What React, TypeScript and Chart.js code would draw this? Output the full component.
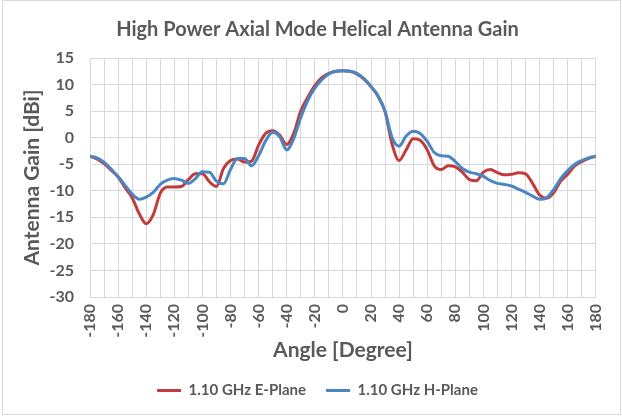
import React, { useEffect, useRef } from "react";
import { Chart, registerables } from "chart.js";

Chart.register(...registerables);

const angles: number[] = [
  -180, -175, -170, -165, -160, -155, -150, -145, -140, -135, -130, -125, -120, -115, -110, -105, -100, -95, -90, -85,
  -80, -75, -70, -65, -60, -55, -50, -45, -40, -35, -30, -25, -20, -15, -10, -5, 0, 5, 10, 15, 20, 25, 30, 35, 40, 45,
  50, 55, 60, 65, 70, 75, 80, 85, 90, 95, 100, 105, 110, 115, 120, 125, 130, 135, 140, 145, 150, 155, 160, 165, 170,
  175, 180,
];

const ePlane: number[] = [
  -3.5, -4.0, -4.9, -6.1, -7.4, -9.4, -11.3, -14.3, -16.2, -14.5, -10.5, -9.3, -9.3, -9.2, -7.9, -6.8, -6.8, -8.3,
  -9.2, -5.8, -4.3, -4.0, -4.6, -4.4, -1.4, 0.8, 1.3, 0.5, -1.3, 0.8, 5.0, 7.6, 9.8, 11.3, 12.1, 12.5, 12.6, 12.5,
  12.0, 11.0, 9.6, 7.8, 4.9, -1.2, -4.3, -2.3, -0.2, -0.5, -2.3, -5.3, -6.0, -5.3, -5.5, -6.5, -7.9, -8.1, -6.5, -6.0,
  -6.6, -7.0, -6.9, -6.6, -6.8, -8.6, -10.8, -11.4, -10.4, -8.2, -6.9, -5.3, -4.5, -3.9, -3.5,
];

const hPlane: number[] = [
  -3.5, -3.8, -4.6, -5.9, -7.3, -9.0, -10.6, -11.6, -11.2, -10.3, -8.8, -8.0, -7.7, -8.0, -8.6, -7.7, -6.4, -6.5,
  -8.2, -8.7, -6.0, -3.9, -3.9, -5.3, -3.4, -0.6, 1.0, 0.2, -2.3, -0.2, 3.8, 7.0, 9.3, 10.9, 12.0, 12.5, 12.6, 12.5,
  12.1, 11.1, 9.7, 7.9, 5.0, 0.0, -1.6, 0.3, 1.2, 0.8, -0.7, -2.8, -3.4, -3.5, -4.5, -5.8, -6.5, -6.8, -7.3, -8.1,
  -8.6, -8.8, -9.1, -9.7, -10.3, -11.0, -11.6, -11.3, -9.8, -7.7, -6.2, -5.0, -4.3, -3.8, -3.5,
];

const seriesNames: string[] = ["1.10 GHz E-Plane", "1.10 GHz H-Plane"];
const titleText = "High Power Axial Mode Helical Antenna Gain";
const xTitle = "Angle [Degree]";
const yTitle = "Antenna Gain [dBi]";

const TEXT = "#595959";
const GRID = "#d9d9d9";
const FONT = "Lato, 'Open Sans', sans-serif";

export default function App() {
  const ref = useRef<HTMLCanvasElement | null>(null);

  useEffect(() => {
    const canvas = ref.current;
    if (!canvas) return;
    const chart = new Chart(canvas, {
      type: "line",
      data: {
        datasets: [
          {
            label: seriesNames[0],
            data: angles.map((a, i) => ({ x: a, y: ePlane[i] })),
            borderColor: "#C23B3B",
            backgroundColor: "#C23B3B",
            borderWidth: 3,
            pointRadius: 0,
            cubicInterpolationMode: "monotone",
            order: 1,
          },
          {
            label: seriesNames[1],
            data: angles.map((a, i) => ({ x: a, y: hPlane[i] })),
            borderColor: "#4A86C4",
            backgroundColor: "#4A86C4",
            borderWidth: 3,
            pointRadius: 0,
            cubicInterpolationMode: "monotone",
            order: 0,
          },
        ],
      },
      options: {
        animation: false,
        responsive: false,
        maintainAspectRatio: false,
        layout: { padding: { left: 24, right: 11, top: 0, bottom: 8 } },
        plugins: {
          tooltip: { enabled: false },
          title: {
            display: true,
            text: titleText,
            color: TEXT,
            font: { family: FONT, size: 20, weight: "bold" },
            padding: { top: 18, bottom: 16 },
          },
          legend: {
            position: "bottom",
            labels: {
              color: TEXT,
              font: { family: FONT, size: 15, weight: "bold" },
              usePointStyle: true,
              pointStyle: "line",
              pointStyleWidth: 24,
              boxHeight: 15,
              padding: 20,
              sort: (a: any, b: any) => a.datasetIndex - b.datasetIndex,
            },
          },
        },
        scales: {
          x: {
            type: "linear",
            min: -180,
            max: 180,
            afterFit: (s: any) => {
              s.height = 66;
            },
            ticks: {
              stepSize: 10,
              autoSkip: false,
              minRotation: 90,
              maxRotation: 90,
              padding: 7,
              color: TEXT,
              font: { family: FONT, size: 16, weight: "bold" },
              callback: (v: any) => (Number(v) % 20 === 0 ? String(v) : ""),
            },
            grid: { color: GRID, drawTicks: false },
            border: { color: GRID },
            title: {
              display: true,
              text: xTitle,
              color: TEXT,
              font: { family: FONT, size: 21, weight: "bold" },
              padding: { top: 0, bottom: 0 },
            },
          },
          y: {
            min: -30,
            max: 15,
            afterFit: (s: any) => {
              s.width = 66;
            },
            ticks: {
              stepSize: 5,
              padding: 16,
              color: TEXT,
              font: { family: FONT, size: 16, weight: "bold" },
            },
            grid: { color: GRID, drawTicks: false },
            border: { display: false },
            title: {
              display: true,
              text: yTitle,
              color: TEXT,
              font: { family: FONT, size: 21, weight: "bold" },
              padding: { top: -4, bottom: 0 },
            },
          },
        },
      },
    });
    return () => chart.destroy();
  }, []);

  return (
    <div style={{ position: "fixed", left: 0, top: 0, width: 622, height: 416, background: "#fff" }}>
      <canvas ref={ref} width={622} height={416} style={{ display: "block", width: 622, height: 416 }} />
      <div
        style={{
          position: "absolute",
          left: 2,
          top: 0,
          width: 617,
          height: 413,
          border: "1px solid #d9d9d9",
          pointerEvents: "none",
        }}
      />
    </div>
  );
}
